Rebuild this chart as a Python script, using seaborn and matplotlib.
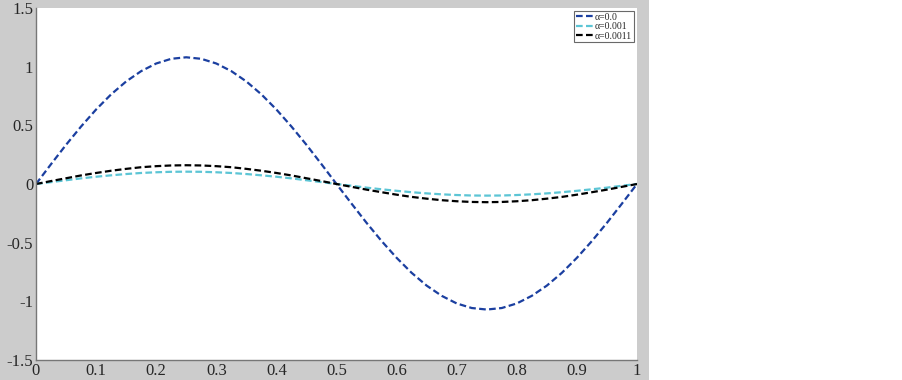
import numpy as np
import pandas as pd
import matplotlib
matplotlib.use("Agg")
import matplotlib.pyplot as plt
import seaborn as sns
from matplotlib.patches import Rectangle

x_vals = [i * 0.025 for i in range(41)]

alpha_0 = [0, 0.169, 0.334, 0.490, 0.635, 0.764, 0.874, 0.962, 1.027, 1.067, 1.080,
           1.067, 1.027, 0.962, 0.874, 0.764, 0.635, 0.490, 0.334, 0.169, 0,
           -0.167, -0.331, -0.486, -0.629, -0.757, -0.866, -0.953, -1.018, -1.057, -1.070,
           -1.057, -1.018, -0.953, -0.866, -0.757, -0.629, -0.486, -0.331, -0.167, 0]
alpha_001 = [0, 0.016, 0.032, 0.048, 0.062, 0.074, 0.085, 0.094, 0.100, 0.104, 0.105,
             0.104, 0.100, 0.094, 0.085, 0.074, 0.062, 0.048, 0.032, 0.016, 0,
             -0.015, -0.031, -0.045, -0.058, -0.070, -0.080, -0.088, -0.094, -0.098, -0.099,
             -0.098, -0.094, -0.088, -0.080, -0.070, -0.058, -0.045, -0.031, -0.015, 0]
alpha_0011 = [0, 0.025, 0.049, 0.073, 0.094, 0.113, 0.129, 0.143, 0.152, 0.158, 0.160,
              0.158, 0.152, 0.143, 0.129, 0.113, 0.094, 0.073, 0.049, 0.025, 0,
              -0.024, -0.048, -0.070, -0.091, -0.110, -0.125, -0.138, -0.147, -0.153, -0.155,
              -0.153, -0.147, -0.138, -0.125, -0.110, -0.091, -0.070, -0.048, -0.024, 0]

labels = ["α=0.0", "α=0.001", "α=0.0011"]
colors = ["#1b3fa0", "#5cc5d5", "#000000"]
x_ticks = [0, 0.1, 0.2, 0.3, 0.4, 0.5, 0.6, 0.7, 0.8, 0.9, 1]
x_ticklabels = ["0", "0.1", "0.2", "0.3", "0.4", "0.5", "0.6", "0.7", "0.8", "0.9", "1"]
y_ticks = [-1.5, -1, -0.5, 0, 0.5, 1, 1.5]
y_ticklabels = ["-1.5", "-1", "-0.5", "0", "0.5", "1", "1.5"]

sns.set_style("white")
plt.rcParams["font.family"] = ["Liberation Serif", "DejaVu Serif"]

fig = plt.figure(figsize=(9.02, 3.8), dpi=100)
fig.patch.set_facecolor("white")
fig.patches.append(Rectangle((0, 0), 649 / 902, 1, transform=fig.transFigure,
                             facecolor="#cccccc", edgecolor="none", zorder=-10))

ax = fig.add_axes([36 / 902, 20 / 380, 601 / 902, 352 / 380])
ax.set_facecolor("white")

for series, lab, col in zip([alpha_0, alpha_001, alpha_0011], labels, colors):
    df = pd.DataFrame({"x": x_vals, "y": series})
    sns.lineplot(data=df, x="x", y="y", ax=ax, color=col, label=lab,
                 linewidth=1.6, linestyle=(0, (3, 1.5)))

ax.set_xlim(0, 1)
ax.set_ylim(-1.5, 1.5)
ax.set_xticks(x_ticks)
ax.set_xticklabels(x_ticklabels)
ax.set_yticks(y_ticks)
ax.set_yticklabels(y_ticklabels)
ax.set_xlabel("")
ax.set_ylabel("")
ax.tick_params(direction="in", length=4, width=0.8, color="#888888",
               labelsize=12, pad=2)
for s in ["top", "right"]:
    ax.spines[s].set_visible(False)
for s in ["left", "bottom"]:
    ax.spines[s].set_color("#777777")
    ax.spines[s].set_linewidth(1.0)

leg = ax.legend(loc="upper right", fontsize=7, handlelength=1.9, handletextpad=0.1,
                borderpad=0.15, labelspacing=0.05, frameon=True, fancybox=False,
                borderaxespad=0.35)
leg.get_frame().set_edgecolor("#444444")
leg.get_frame().set_linewidth(0.8)

fig.savefig("out.png", dpi=100)
